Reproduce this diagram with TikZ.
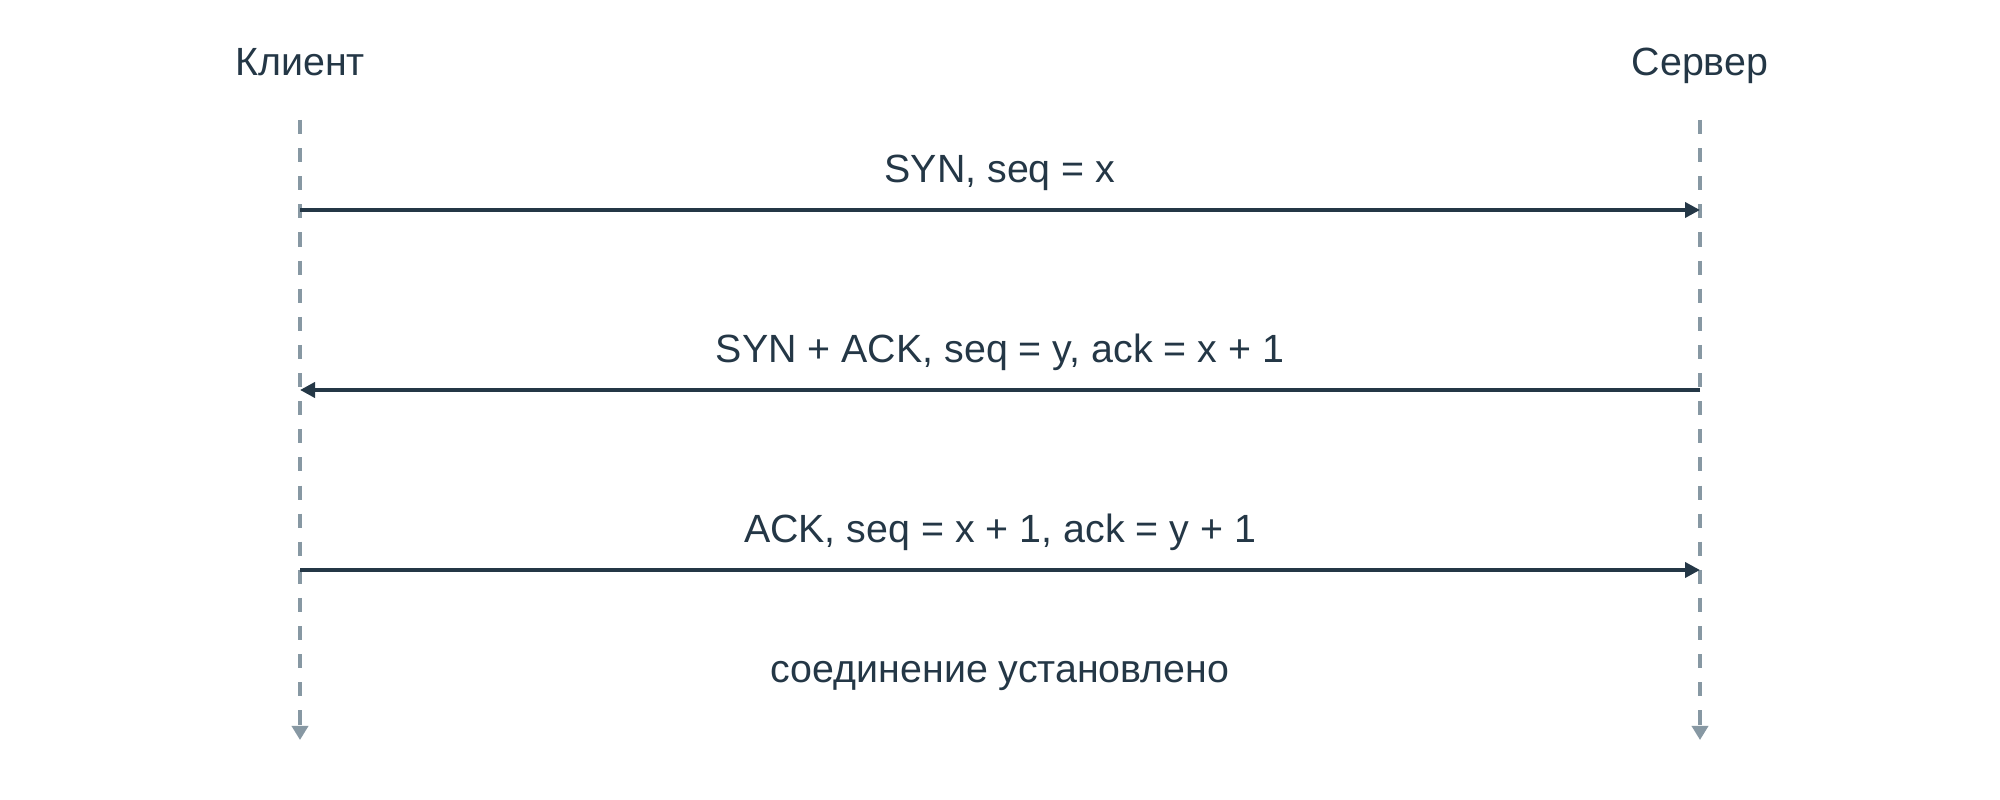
\documentclass[tikz,border=0pt]{standalone}
\usepackage{fontspec}
\setmainfont{Liberation Sans}
\usepackage{tikz}
\usetikzlibrary{arrows.meta}

\definecolor{ink}{RGB}{36,55,70}
\definecolor{life}{RGB}{135,152,163}

\begin{document}
\begin{tikzpicture}[thick,
  lifeline/.style={color=life,line width=1pt,dash pattern=on 4pt off 4pt,
    -{Triangle[length=0.14cm,width=0.16cm]}},
  msg/.style={color=ink,line width=1.2pt,-{Triangle[length=0.15cm,width=0.15cm]}},
  lbl/.style={text=ink,inner sep=0pt,anchor=base,font=\fontsize{11.2}{13}\selectfont}]
\useasboundingbox (0,0) rectangle (20,8);

%Define positions
\def\xcl{3}        %x of CLIENT lifeline.
\def\xsv{17}       %x of SERVER lifeline.
\def\xmid{10}      %middle between both.
\def\ytop{6.8}     %lifelines start.
\def\ybot{0.6}     %lifelines end.

% Define coordinates
\coordinate (ctop) at (\xcl,\ytop);
\coordinate (cbot) at (\xcl,\ybot);
\coordinate (stop) at (\xsv,\ytop);
\coordinate (sbot) at (\xsv,\ybot);
\coordinate (csyn) at (\xcl,5.90);
\coordinate (ssyn) at (\xsv,5.90);
\coordinate (csa) at (\xcl,4.10);
\coordinate (ssa) at (\xsv,4.10);
\coordinate (cack) at (\xcl,2.30);
\coordinate (sack) at (\xsv,2.30);

% Participants
\node[lbl] (client) at (\xcl,7.24) {Клиент};
\node[lbl] (server) at (\xsv,7.24) {Сервер};

% Lifelines
\draw[lifeline] (ctop) -- (cbot);
\draw[lifeline] (stop) -- (sbot);

% Handshake
\draw[msg] (csyn) -- (ssyn);
\node[lbl] (synlbl) at (\xmid,6.17) {SYN, seq = x};

\draw[msg] (ssa) -- (csa);
\node[lbl] (salbl) at (\xmid,4.37) {SYN + ACK, seq = y, ack = x + 1};

\draw[msg] (cack) -- (sack);
\node[lbl] (acklbl) at (\xmid,2.57) {ACK, seq = x + 1, ack = y + 1};

\node[lbl] (done) at (\xmid,1.17) {соединение установлено};

\end{tikzpicture}
\end{document}
